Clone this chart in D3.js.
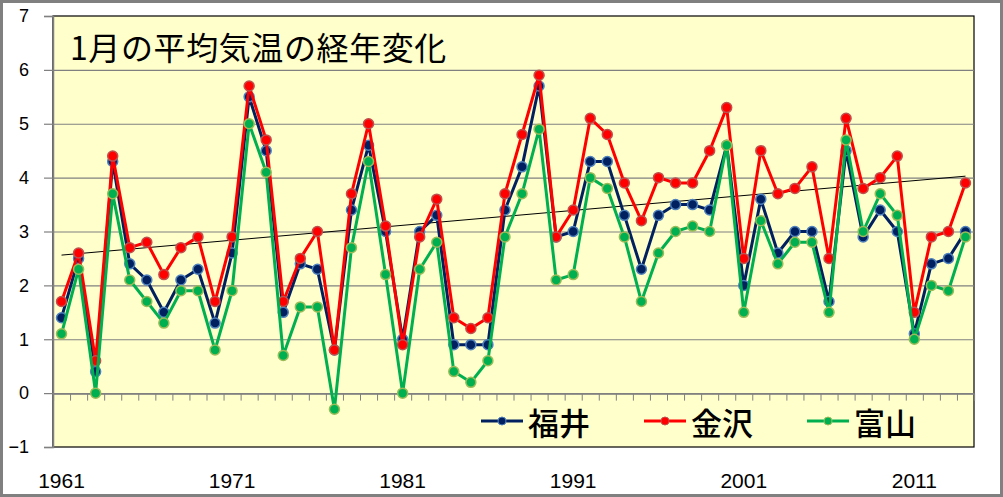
<!DOCTYPE html>
<html>
<head>
<meta charset="utf-8">
<script src="https://cdn.jsdelivr.net/npm/d3@7"></script>
<style>
  body { margin: 0; background: #fff; }
  svg { display: block; }
</style>
</head>
<body>
<svg id="chart" width="1003" height="497"></svg>
<script>
// data (January mean temperature, deg C)
var years = d3.range(1961, 2015);
var fukui = [1.4, 2.5, 0.4, 4.3, 2.4, 2.1, 1.5, 2.1, 2.3, 1.3,
             2.6, 5.5, 4.5, 1.5, 2.4, 2.3, 0.8, 3.4, 4.6, 3.0,
             1.0, 3.0, 3.3, 0.9, 0.9, 0.9, 3.4, 4.2, 5.7, 2.9,
             3.0, 4.3, 4.3, 3.3, 2.3, 3.3, 3.5, 3.5, 3.4, 4.6,
             2.0, 3.6, 2.6, 3.0, 3.0, 1.7, 4.5, 2.9, 3.4, 3.0,
             1.1, 2.4, 2.5, 3.0];
var kanazawa = [1.7, 2.6, 0.6, 4.4, 2.7, 2.8, 2.2, 2.7, 2.9, 1.7,
                2.9, 5.7, 4.7, 1.7, 2.5, 3.0, 0.8, 3.7, 5.0, 3.1,
                0.9, 2.9, 3.6, 1.4, 1.2, 1.4, 3.7, 4.8, 5.9, 2.9,
                3.4, 5.1, 4.8, 3.9, 3.2, 4.0, 3.9, 3.9, 4.5, 5.3,
                2.5, 4.5, 3.7, 3.8, 4.2, 2.5, 5.1, 3.8, 4.0, 4.4,
                1.5, 2.9, 3.0, 3.9];
var toyama = [1.1, 2.3, 0.0, 3.7, 2.1, 1.7, 1.3, 1.9, 1.9, 0.8,
              1.9, 5.0, 4.1, 0.7, 1.6, 1.6, -0.3, 2.7, 4.3, 2.2,
              0.0, 2.3, 2.8, 0.4, 0.2, 0.6, 2.9, 3.7, 4.9, 2.1,
              2.2, 4.0, 3.8, 2.9, 1.7, 2.6, 3.0, 3.1, 3.0, 4.6,
              1.5, 3.2, 2.4, 2.8, 2.8, 1.5, 4.7, 3.0, 3.7, 3.3,
              1.0, 2.0, 1.9, 2.9];
var yTicks = [-1, 0, 1, 2, 3, 4, 5, 6, 7];
var yearLabels = [1961, 1971, 1981, 1991, 2001, 2011];
var title = "1月の平均気温の経年変化";

var series = [
  { name: "福井", values: fukui, line: "#002060", fill: "#002060", edge: "#4f81bd" },
  { name: "金沢", values: kanazawa, line: "#ff0000", fill: "#ff0000", edge: "#c0504d" },
  { name: "富山", values: toyama, line: "#00b050", fill: "#00b050", edge: "#9bbb59" }
];

var plot = { left: 53, right: 974, top: 16, bottom: 447 };

var svg = d3.select("#chart");

var x = d3.scaleBand().domain(years).range([plot.left, plot.right]);
var xi = d3.scaleLinear().domain([0, years.length]).range([plot.left, plot.right]);
var y = d3.scaleLinear().domain([-1, 7]).range([plot.bottom, plot.top]);
var cx = function(yr) { return x(yr) + x.bandwidth() / 2; };

// outer frame
svg.append("rect")
    .attr("x", 1.5).attr("y", 1.5)
    .attr("width", 1000).attr("height", 494)
    .attr("fill", "#fff")
    .attr("stroke", "#808080")
    .attr("stroke-width", 3);

// plot area
svg.append("rect")
    .attr("x", plot.left).attr("y", plot.top)
    .attr("width", plot.right - plot.left).attr("height", plot.bottom - plot.top)
    .attr("fill", "#ffffcc")
    .attr("stroke", "#000")
    .attr("stroke-width", 1.2);

// grid
svg.append("g")
  .selectAll("line")
  .data(yTicks.filter(function(t) { return t > -1 && t < 7; }))
  .join("line")
    .attr("x1", plot.left).attr("x2", plot.right)
    .attr("y1", function(d) { return y(d) + 0.5; })
    .attr("y2", function(d) { return y(d) + 0.5; })
    .attr("stroke", "#808080")
    .attr("stroke-width", 1.2);

// y axis
var yAxis = svg.append("g")
    .attr("transform", "translate(" + plot.left + ",0)")
    .call(d3.axisLeft(y).tickValues(yTicks).tickSize(9).tickPadding(24).tickFormat(d3.format("d")));
yAxis.select(".domain").attr("stroke", "#808080").attr("stroke-width", 1.5);
yAxis.selectAll(".tick line").attr("stroke", "#808080").attr("stroke-width", 1.2);
yAxis.selectAll(".tick text")
    .attr("font-family", "'Liberation Sans', Arial, sans-serif")
    .attr("font-size", 18)
    .attr("fill", "#000")
    .attr("x", -24);

// x axis ticks on the zero line
var xAxis = svg.append("g")
    .attr("transform", "translate(0," + (y(0) + 0.5) + ")")
    .call(d3.axisBottom(xi).tickValues(d3.range(1, years.length)).tickSize(7).tickFormat(""));
xAxis.select(".domain").attr("stroke", "#808080").attr("stroke-width", 1.2);
xAxis.selectAll(".tick line").attr("stroke", "#808080").attr("stroke-width", 1);

// year labels at the bottom
svg.append("g")
  .selectAll("text")
  .data(yearLabels)
  .join("text")
    .attr("x", function(d) { return cx(d); })
    .attr("y", 480)
    .attr("text-anchor", "middle")
    .attr("dominant-baseline", "central")
    .attr("font-family", "'Liberation Sans', Arial, sans-serif")
    .attr("font-size", 21)
    .text(function(d) { return d; });

// trend line (least squares on 金沢)
var n = years.length;
var mx = d3.mean(years), my = d3.mean(kanazawa);
var sxy = d3.sum(years, function(yr, i) { return (yr - mx) * (kanazawa[i] - my); });
var sxx = d3.sum(years, function(yr) { return (yr - mx) * (yr - mx); });
var slope = sxy / sxx;
var trend = function(yr) { return my + slope * (yr - mx); };
svg.append("line")
    .attr("x1", cx(years[0])).attr("y1", y(trend(years[0])))
    .attr("x2", cx(years[n - 1])).attr("y2", y(trend(years[n - 1])))
    .attr("stroke", "#000")
    .attr("stroke-width", 1);

// series
var line = d3.line()
    .x(function(d, i) { return cx(years[i]); })
    .y(function(d) { return y(d); });

series.forEach(function(s) {
  var g = svg.append("g");
  g.append("path")
      .datum(s.values)
      .attr("d", line)
      .attr("fill", "none")
      .attr("stroke", s.line)
      .attr("stroke-width", 3)
      .attr("stroke-linejoin", "round");
  g.selectAll("circle")
    .data(s.values)
    .join("circle")
      .attr("cx", function(d, i) { return cx(years[i]); })
      .attr("cy", function(d) { return y(d); })
      .attr("r", 5)
      .attr("fill", s.fill)
      .attr("stroke", s.edge)
      .attr("stroke-width", 1.5);
});

// title
svg.append("text")
    .attr("x", 70)
    .attr("y", 45.5)
    .attr("dominant-baseline", "central")
    .attr("font-family", "'Noto Sans CJK JP', sans-serif")
    .attr("font-size", 32)
    .attr("letter-spacing", 0.6)
    .text(title);

// legend
var legendX = [481, 644, 807];
var legend = svg.append("g")
  .selectAll("g")
  .data(series)
  .join("g")
    .attr("transform", function(d, i) { return "translate(" + legendX[i] + ",421)"; });
legend.append("line")
    .attr("x1", 0).attr("x2", 42)
    .attr("stroke", function(d) { return d.line; })
    .attr("stroke-width", 3);
legend.append("circle")
    .attr("cx", 21).attr("r", 4)
    .attr("fill", function(d) { return d.fill; })
    .attr("stroke", function(d) { return d.edge; })
    .attr("stroke-width", 1);
legend.append("text")
    .attr("x", 47)
    .attr("dominant-baseline", "central")
    .attr("font-family", "'Noto Sans CJK JP', sans-serif")
    .attr("font-size", 31)
    .attr("font-weight", 500)
    .text(function(d) { return d.name; });
</script>
</body>
</html>
